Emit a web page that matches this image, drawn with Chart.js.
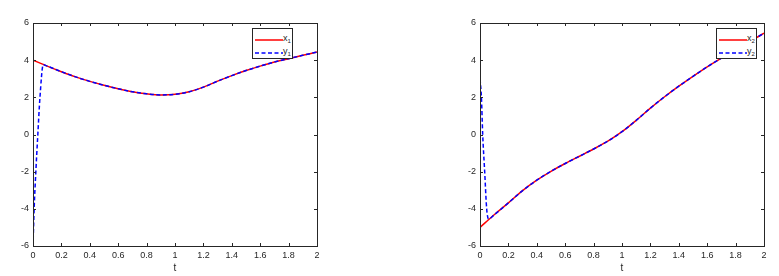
<!DOCTYPE html>
<html>
<head>
<meta charset="utf-8">
<script src="https://cdn.jsdelivr.net/npm/chart.js@4"></script>
<style>
  body { margin: 0; background: #fff; font-family: "Liberation Sans", Arial, sans-serif; }
  #wrap { position: relative; width: 779px; height: 276px; overflow: hidden; }
  canvas { position: absolute; top: 0; }
  .legend { position: absolute; background: #fff; border: 1px solid #262626; width: 39px; height: 29px;
            font-size: 9px; color: #262626; }
  .legend .row { position: absolute; left: 2px; height: 10px; line-height: 10px; white-space: nowrap; }
  .legend svg { vertical-align: middle; }
  .legend span { vertical-align: middle; }
  .legend sub { font-size: 6px; vertical-align: -2px; }
</style>
</head>
<body>
<div id="wrap">
  <canvas id="plot1" width="440" height="276" style="left:0"></canvas>
  <canvas id="plot2" width="339" height="276" style="left:440px"></canvas>
  <div class="legend" style="left:252px;top:28px">
    <div class="row" style="top:4px"><svg width="28" height="4"><line x1="0" y1="2" x2="28" y2="2" stroke="#ff0000" stroke-width="1.5"/></svg><span>x<sub>1</sub></span></div>
    <div class="row" style="top:17px"><svg width="28" height="4"><line x1="0" y1="2" x2="28" y2="2" stroke="#0000ff" stroke-width="1.5" stroke-dasharray="4 2.5"/></svg><span>y<sub>1</sub></span></div>
  </div>
  <div class="legend" style="left:716px;top:28px">
    <div class="row" style="top:4px"><svg width="28" height="4"><line x1="0" y1="2" x2="28" y2="2" stroke="#ff0000" stroke-width="1.5"/></svg><span>x<sub>2</sub></span></div>
    <div class="row" style="top:17px"><svg width="28" height="4"><line x1="0" y1="2" x2="28" y2="2" stroke="#0000ff" stroke-width="1.5" stroke-dasharray="4 2.5"/></svg><span>y<sub>2</sub></span></div>
  </div>
</div>
<script>
// sample times and values
const tValues = [0, 0.1, 0.2, 0.3, 0.4, 0.5, 0.6, 0.7, 0.8, 0.9, 1.0,
                 1.1, 1.2, 1.3, 1.4, 1.5, 1.6, 1.7, 1.8, 1.9, 2.0];
const x1Values = [4.0, 3.68, 3.38, 3.1, 2.86, 2.65, 2.46, 2.3, 2.19, 2.13, 2.16,
                  2.3, 2.55, 2.87, 3.17, 3.44, 3.68, 3.9, 4.08, 4.26, 4.44];
const x2Values = [-5.0, -4.32, -3.68, -3.02, -2.46, -1.98, -1.56, -1.17, -0.78, -0.36, 0.15,
                  0.76, 1.42, 2.03, 2.6, 3.13, 3.64, 4.11, 4.56, 5.0, 5.45];

// observer transient before it joins the state
const y1HeadT = [0, 0.008, 0.02, 0.034, 0.049, 0.072];
const y1HeadValues = [-6, -4, -2, 0, 2, 3.75];
const y2HeadT = [0, 0.01, 0.019, 0.033, 0.047, 0.06];
const y2HeadValues = [3, 2, 0, -2, -4, -4.55];

const xTicks = [0, 0.2, 0.4, 0.6, 0.8, 1, 1.2, 1.4, 1.6, 1.8, 2];
const xTickLabels = ["0", "0.2", "0.4", "0.6", "0.8", "1", "1.2", "1.4", "1.6", "1.8", "2"];
const yTicks = [-6, -4, -2, 0, 2, 4, 6];
const yTickLabels = ["-6", "-4", "-2", "0", "2", "4", "6"];

const axisColor = "#262626";

function pts(ts, vs) {
  return ts.map((t, i) => ({ x: t, y: vs[i] }));
}

// axes box with inward ticks on all four sides
const boxPlugin = {
  id: "matlabBox",
  afterDraw(chart) {
    const { ctx, chartArea: a, scales } = chart;
    const len = 3;
    ctx.save();
    ctx.strokeStyle = axisColor;
    ctx.lineWidth = 1;
    ctx.beginPath();
    scales.x.ticks.forEach(tk => {
      const px = Math.round(scales.x.getPixelForValue(tk.value)) + 0.5;
      ctx.moveTo(px, a.bottom); ctx.lineTo(px, a.bottom - len);
      ctx.moveTo(px, a.top); ctx.lineTo(px, a.top + len);
    });
    scales.y.ticks.forEach(tk => {
      const py = Math.round(scales.y.getPixelForValue(tk.value)) + 0.5;
      ctx.moveTo(a.left, py); ctx.lineTo(a.left + len, py);
      ctx.moveTo(a.right, py); ctx.lineTo(a.right - len, py);
    });
    ctx.stroke();
    ctx.strokeRect(Math.round(a.left) + 0.5, Math.round(a.top) + 0.5,
                   Math.round(a.right - a.left), Math.round(a.bottom - a.top));
    ctx.restore();
  }
};

function makePlot(id, xData, yData, xLabel, yLabel, yAxisWidth, rightPad) {
  new Chart(document.getElementById(id), {
    type: "line",
    data: {
      datasets: [
        {
          label: xLabel,
          data: xData,
          borderColor: "#ff0000",
          borderWidth: 1.5,
          pointRadius: 0,
          cubicInterpolationMode: "monotone",
          order: 1,
        },
        {
          label: yLabel,
          data: yData,
          borderColor: "#0000ff",
          borderWidth: 1.5,
          borderDash: [4, 2.5],
          pointRadius: 0,
          cubicInterpolationMode: "monotone",
          order: 0,
        },
      ],
    },
    options: {
      responsive: false,
      animation: false,
      layout: { padding: { left: 0, top: 23, right: rightPad, bottom: 0 } },
      plugins: {
        legend: { display: false },
        tooltip: { enabled: false },
      },
      scales: {
        x: {
          type: "linear",
          min: 0,
          max: 2,
          grid: { display: false, drawTicks: false },
          border: { display: false },
          afterBuildTicks: s => { s.ticks = xTicks.map(v => ({ value: v })); },
          afterFit: s => { s.height = 30; },
          ticks: {
            padding: 4,
            color: axisColor,
            font: { family: "Liberation Sans", size: 9 },
            maxRotation: 0,
            callback: (v, i) => xTickLabels[i],
          },
          title: {
            display: true,
            text: "t",
            color: axisColor,
            font: { family: "Liberation Sans", size: 10 },
            padding: { top: 0, bottom: 2 },
          },
        },
        y: {
          min: -6,
          max: 6,
          grid: { display: false, drawTicks: false },
          border: { display: false },
          afterBuildTicks: s => { s.ticks = yTicks.map(v => ({ value: v })); },
          afterFit: s => { s.width = yAxisWidth; },
          ticks: {
            padding: 4,
            color: axisColor,
            font: { family: "Liberation Sans", size: 9 },
            callback: (v, i) => yTickLabels[i],
          },
        },
      },
    },
    plugins: [boxPlugin],
  });
}

const y1Data = pts(y1HeadT, y1HeadValues).concat(pts(tValues.slice(1), x1Values.slice(1)));
const y2Data = pts(y2HeadT, y2HeadValues).concat(pts(tValues.slice(1), x2Values.slice(1)));

makePlot("plot1", pts(tValues, x1Values), y1Data, "x1", "y1", 33, 123);
makePlot("plot2", pts(tValues, x2Values), y2Data, "x2", "y2", 40, 15);
</script>
</body>
</html>
